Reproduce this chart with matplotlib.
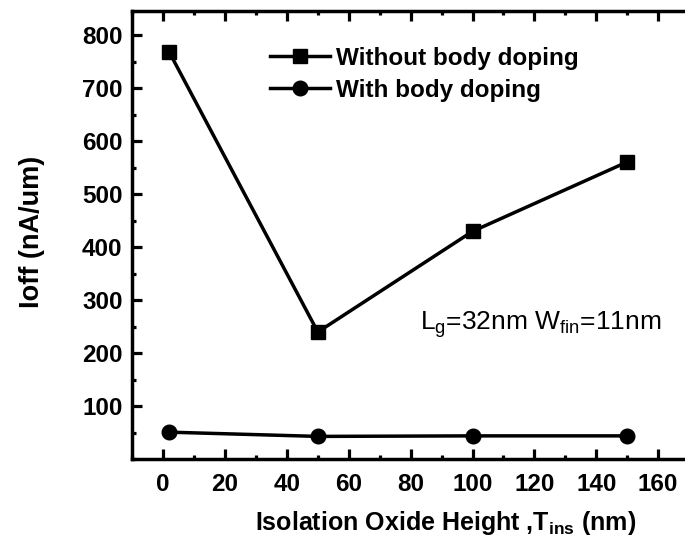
import matplotlib
matplotlib.use('Agg')
import matplotlib.pyplot as plt
from matplotlib.ticker import MultipleLocator

plt.rcParams['font.family'] = ['Liberation Sans', 'DejaVu Sans']
plt.rcParams['mathtext.fontset'] = 'custom'
plt.rcParams['mathtext.rm'] = 'Liberation Sans'
plt.rcParams['mathtext.bf'] = 'Liberation Sans:bold'
plt.rcParams['mathtext.default'] = 'regular'

# data
t_ins = [2, 50, 100, 150]
ioff_no_doping = [768, 240, 430, 561]
ioff_doping = [51, 43, 44, 44]
series_labels = ['Without body doping', 'With body doping']

fig = plt.figure(figsize=(6.85, 5.46), dpi=100)
ax = fig.add_axes([0.193, 0.159, 0.813, 0.82])

ax.plot(t_ins, ioff_no_doping, color='black', lw=2.5, marker='s', ms=9.5,
        label=series_labels[0])
ax.plot(t_ins, ioff_doping, color='black', lw=2.5, marker='o', ms=10.5,
        label=series_labels[1])

ax.set_xlim(-10, 170)
ax.set_ylim(0, 845)
ax.xaxis.set_major_locator(MultipleLocator(20))
ax.xaxis.set_minor_locator(MultipleLocator(10))
ax.yaxis.set_major_locator(MultipleLocator(100))
ax.yaxis.set_minor_locator(MultipleLocator(50))
ax.set_yticks([100, 200, 300, 400, 500, 600, 700, 800])

for s in ax.spines.values():
    s.set_linewidth(2.5)

ax.tick_params(which='major', direction='in', length=7.5, width=2.3,
               labelsize=17.5, pad=7)
ax.tick_params(which='minor', direction='in', length=3, width=2.3)
ax.tick_params(axis='x', which='both', top=True)
ax.tick_params(axis='x', which='major', pad=10)
for lab in ax.get_xticklabels() + ax.get_yticklabels():
    lab.set_fontweight('bold')

ax.set_xlabel('Isolation Oxide Height ,T$_{ins}$ (nm)', fontsize=18,
              fontweight='bold', va='center')
ax.xaxis.set_label_coords(0.562, -0.143)
ax.set_ylabel('Ioff (nA/um)', fontsize=19.5, fontweight='bold', va='center')
ax.yaxis.set_label_coords(-0.18, 0.508)

ax.text(83, 253, 'L$_g$=32nm W$_{fin}$=11nm', fontsize=19, va='center')

leg = ax.legend(loc='upper left', bbox_to_anchor=(0.23, 0.943), frameon=False,
                prop={'weight': 'bold', 'size': 17.5}, handlelength=2.47,
                handletextpad=0.25, labelspacing=0.38, borderaxespad=0)

fig.savefig('out.png', dpi=100)
